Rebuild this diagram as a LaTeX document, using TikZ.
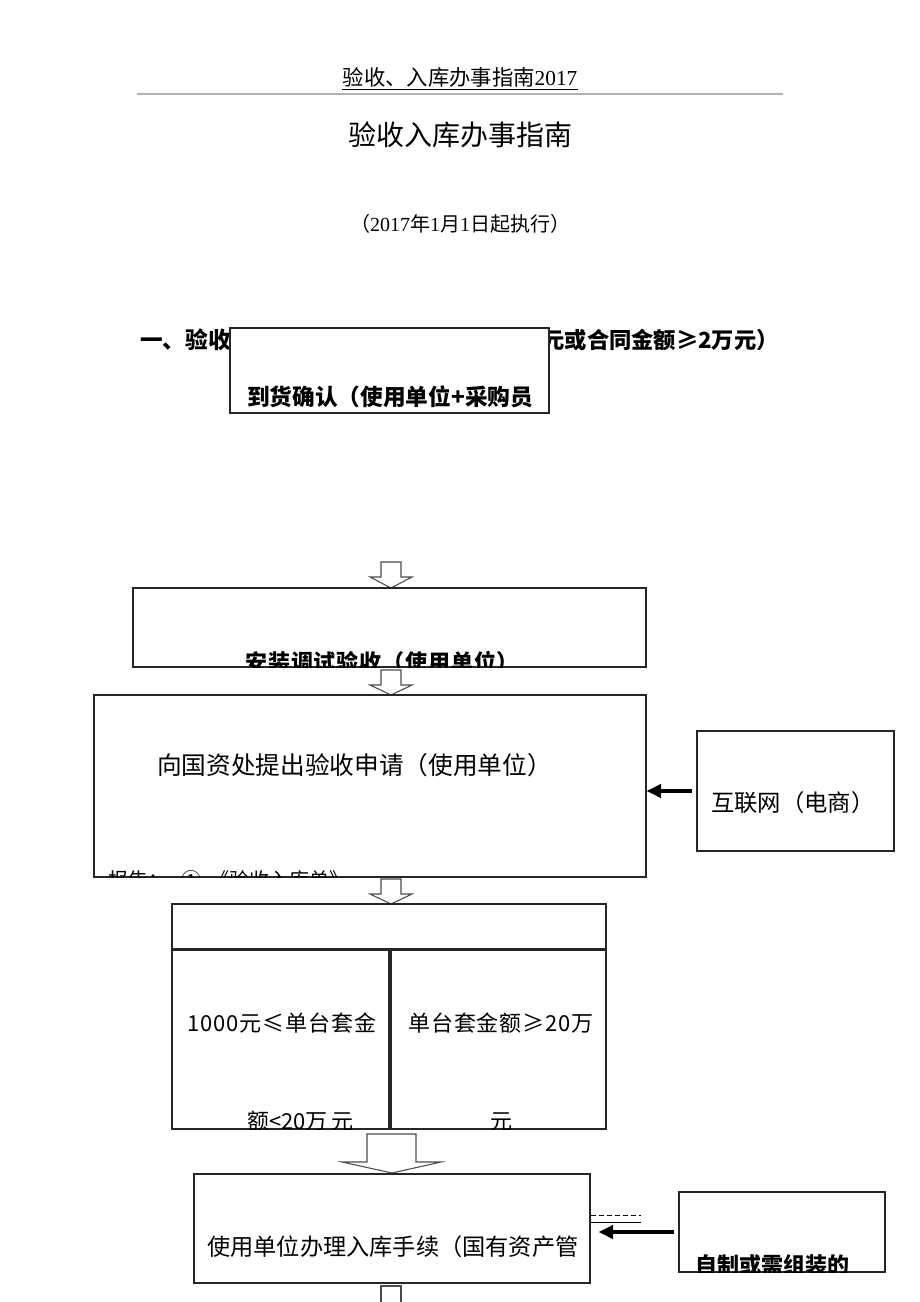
\documentclass[tikz,border=0pt]{standalone}
\usepackage{fontspec}
\setmainfont{Liberation Serif}
\newfontfamily\cjk{Noto Sans CJK SC}
\usetikzlibrary{arrows.meta}
\tikzset{
  box/.style={draw=black!85, line width=0.8pt, fill=white, inner sep=0pt, rectangle},
  txt/.style={inner sep=0pt, anchor=base west},
  blockarrow/.style={draw=black!70, line width=0.8pt, fill=white},
  fatarrow/.style={draw=black, line width=3pt, -{Triangle[length=11pt,width=10pt]}},
}
\begin{document}
\begin{tikzpicture}[x=0.75pt,y=-0.75pt]
\useasboundingbox (0,0) rectangle (920,1302);

% header
\node[inner sep=0pt, anchor=base] (hdr) at (460,86) {\fontsize{16}{16}\selectfont\cjk 验收、入库办事指南{\rmfamily 2017}};
\draw[line width=0.7pt] ([yshift=-2.5pt]hdr.base west) -- ([yshift=-2.5pt]hdr.base east);
\draw[gray!60, line width=1.1pt] (137,94) coordinate (hl) -- (783,94) coordinate (hr);

% title
\node[inner sep=0pt, anchor=base] (title) at (460,146) {\fontsize{21}{21}\selectfont\cjk 验收入库办事指南};
\node[inner sep=0pt, anchor=base] (date) at (460,231) {\fontsize{15}{15}\selectfont\cjk （{\rmfamily 2017}年{\rmfamily 1}月{\rmfamily 1}日起执行）};

% section heading (partly covered by first box)
\node[txt] (secL) at (140,348) {\fontsize{17}{17}\selectfont\cjk\bfseries 一、验收};
\node[inner sep=0pt, anchor=base east] (secR) at (779,348) {\fontsize{16.7}{16.7}\selectfont\cjk\bfseries 元或合同金额≥2万元）};

% box 1
\node[box, minimum width=319*0.75pt, minimum height=85*0.75pt] (b1) at (389.5,370.5) {};
\begin{scope}
\clip (b1.south west) rectangle (b1.north east);
\node[txt] (t1) at (247,405) {\fontsize{17}{17}\selectfont\cjk\bfseries 到货确认（使用单位+采购员};
\end{scope}

% arrow 1
\draw[blockarrow] (381,562) -- (401,562) -- (401,577) -- (412,577) -- (391,588) -- (370,577) -- (381,577) -- cycle;

% box 2
\node[box, minimum width=513*0.75pt, minimum height=79*0.75pt] (b2) at (389.5,627.5) {};
\begin{scope}
\clip (b2.south west) rectangle (b2.north east);
\node[txt] (t2) at (245,670) {\fontsize{16.5}{16.5}\selectfont\cjk\bfseries\addfontfeature{LetterSpace=4}安装调试验收（使用单位）};
\end{scope}

% arrow 2
\draw[blockarrow] (381,670) -- (401,670) -- (401,685) -- (412,685) -- (391,695) -- (370,685) -- (381,685) -- cycle;

% box 3
\node[box, minimum width=552*0.75pt, minimum height=182*0.75pt] (b3) at (370,786) {};
\node[txt] (t3) at (157,774) {\fontsize{18.5}{18.5}\selectfont\cjk 向国资处提出验收申请（使用单位）};
\begin{scope}
\clip (b3.south west) rectangle (b3.north east);
\node[txt] (t3b) at (108,887) {\fontsize{15}{15}\selectfont\cjk 报告：\hspace{10pt}①\hspace{6pt}《验收入库单》};
\end{scope}

% right box (internet)
\node[box, minimum width=197*0.75pt, minimum height=120*0.75pt] (rb) at (795.5,791) {};
\node[txt] (trb) at (711,811) {\fontsize{17.5}{17.5}\selectfont\cjk 互联网（电商）};
\draw[fatarrow, shorten <=3pt] (rb.west) -- (rb.west -| b3.east);

% arrow 3
\draw[blockarrow] (381,879) -- (401,879) -- (401,894) -- (412,894) -- (391,904) -- (370,894) -- (381,894) -- cycle;

% box 4 header and split
\node[box, minimum width=434*0.75pt, minimum height=45*0.75pt] (b4) at (389,926.5) {};
\node[box, minimum width=217*0.75pt, minimum height=179*0.75pt] (b4l) at (280.5,1039.5) {};
\node[box, minimum width=215*0.75pt, minimum height=179*0.75pt] (b4r) at (498.5,1039.5) {};
\node[txt] (tl1) at (187,1031) {\fontsize{16.5}{16.5}\selectfont\cjk\addfontfeature{LetterSpace=4}1000元≤单台套金};
\node[txt] (tr1) at (408,1031) {\fontsize{16.5}{16.5}\selectfont\cjk\addfontfeature{LetterSpace=4}单台套金额≥20万};
\begin{scope}
\clip (b4l.south west) rectangle (b4r.north east);
\node[txt] (tl2) at (247,1129) {\fontsize{16.5}{16.5}\selectfont\cjk 额<20万\hspace{3pt}元};
\node[txt] (tr2) at (490,1129) {\fontsize{16.5}{16.5}\selectfont\cjk 元};
\end{scope}

% arrow 4 (large)
\draw[blockarrow] (367,1134) -- (416,1134) -- (416,1162) -- (441,1162) -- (392,1173) -- (342,1162) -- (367,1162) -- cycle;

% box 5
\node[box, minimum width=396*0.75pt, minimum height=109*0.75pt] (b5) at (392,1228.5) {};
\begin{scope}
\clip (b5.south west) rectangle (b5.north east);
\node[txt] (t5) at (207,1255) {\fontsize{17.4}{17.4}\selectfont\cjk 使用单位办理入库手续（国有资产管};
\end{scope}

% box 6
\node[box, minimum width=206*0.75pt, minimum height=80*0.75pt] (b6) at (782,1232) {};
\begin{scope}
\clip (b6.south west) rectangle (b6.north east);
\node[txt] (t6) at (695,1273) {\fontsize{16.5}{16.5}\selectfont\cjk\bfseries 自制或需组装的};
\end{scope}

% connectors between box 6 and box 5
\draw[line width=0.7pt, dash pattern=on 4pt off 2pt] (b5.east |- 0,1215) -- ++(50,0) coordinate (dashend);
\draw[line width=0.7pt] (b5.east |- 0,1222) -- ++(50,0) coordinate (solidend);
\draw[fatarrow, shorten <=3pt, shorten >=6pt] (b6.west) -- (b6.west -| b5.east);

% arrow 5 (cut off by page)
\draw[blockarrow] (381,1320) -- (381,1286) -- (401,1286) -- (401,1320);

\end{tikzpicture}
\end{document}
